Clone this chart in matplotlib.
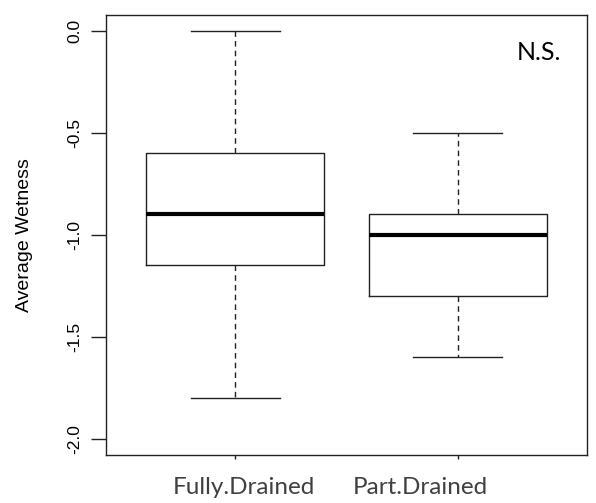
import matplotlib
matplotlib.use("Agg")
import matplotlib.pyplot as plt

groups = ["Fully.Drained", "Part.Drained"]
whisker_low = [-1.8, -1.6]
q1 = [-1.15, -1.3]
median = [-0.9, -1.0]
q3 = [-0.6, -0.9]
whisker_high = [0.0, -0.5]
yticks = [0.0, -0.5, -1.0, -1.5, -2.0]
ytick_labels = ["0.0", "-0.5", "-1.0", "-1.5", "-2.0"]

W, H = 596, 503
fig = plt.figure(figsize=(W / 100, H / 100), dpi=100)
ax = fig.add_axes([106 / W, 1 - 455 / H, (587 - 106) / W, (455 - 14.7) / H])

stats = []
for i, g in enumerate(groups):
    stats.append(dict(label=g, whislo=whisker_low[i], q1=q1[i], med=median[i],
                      q3=q3[i], whishi=whisker_high[i], fliers=[]))

ax.bxp(stats, positions=[1, 2], widths=0.8, showfliers=False,
       boxprops=dict(color="#222222", linewidth=1.0),
       medianprops=dict(color="black", linewidth=3.0, solid_capstyle="butt"),
       whiskerprops=dict(color="#222222", linewidth=1.0, linestyle=(0, (4, 3))),
       capprops=dict(color="#222222", linewidth=1.0),
       capwidths=0.4)

ax.set_xlim(0.42, 2.58)
ax.set_ylim(-2.08, 0.08)
ax.set_yticks(yticks)
ax.set_yticklabels(ytick_labels, rotation=90, va="center", family="Liberation Sans",
                   fontsize=12.5)
ax.tick_params(axis="y", length=11, width=1, pad=6, color="#222222")
ax.set_xticks([1, 2])
ax.set_xticklabels(["", ""])
ax.tick_params(axis="x", length=3, width=1, color="#222222")
for s in ax.spines.values():
    s.set_color("#222222")
    s.set_linewidth(1.0)

fig.text(25 / W, 1 - 235 / H, "Average Wetness", rotation=90, ha="center", va="center",
         family="Liberation Sans", fontsize=14)

fig.text(244 / W, 1 - 487 / H, groups[0], ha="center", va="center",
         family="Lato", fontsize=17.5, color="#404040")
fig.text(420 / W, 1 - 487 / H, groups[1], ha="center", va="center",
         family="Lato", fontsize=17.5, color="#404040")
fig.text(539 / W, 1 - 53 / H, "N.S.", ha="center", va="center",
         family="Lato", fontsize=18, color="black")

fig.savefig("out.png", dpi=100)
